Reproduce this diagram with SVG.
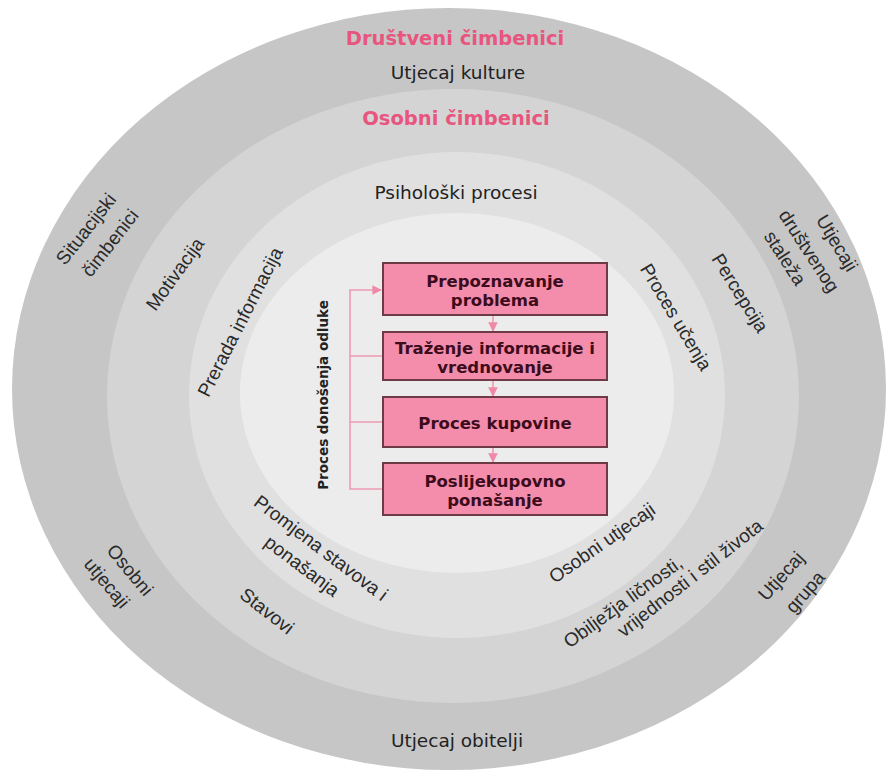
<svg xmlns="http://www.w3.org/2000/svg" width="888" height="773" viewBox="0 0 888 773">
<defs>
<style>
.hd{font-family:"DejaVu Sans",Verdana,sans-serif;font-weight:bold;font-size:19.5px;fill:#e8557f;text-anchor:middle;dominant-baseline:central}
.lb{font-family:"DejaVu Sans",Verdana,sans-serif;font-size:18.5px;fill:#222;text-anchor:middle;dominant-baseline:central}
.rl{font-family:"Liberation Sans",Arial,sans-serif;font-size:19px;fill:#2a2a2a;text-anchor:middle;dominant-baseline:central}
.bx{fill:#f38dab;stroke:#6e3a46;stroke-width:2}
.bt{font-family:"DejaVu Sans",Verdana,sans-serif;font-weight:bold;font-size:16.5px;fill:#3d0c1c;text-anchor:middle;dominant-baseline:central}
.vt{font-family:"DejaVu Sans",Verdana,sans-serif;font-weight:bold;font-size:13.5px;fill:#222;text-anchor:middle;dominant-baseline:central}
.cn{fill:none;stroke:#ee9ab4;stroke-width:1.6}
</style>
<marker id="ah" viewBox="0 0 10 10" refX="9" refY="5" markerWidth="6" markerHeight="6" orient="auto">
<path d="M0,0 L10,5 L0,10 z" fill="#ee8aa8"/>
</marker>
</defs>
<rect width="888" height="773" fill="#ffffff"/>
<g id="rings">
<ellipse cx="449" cy="389" rx="437" ry="381" fill="#c6c6c6"/>
<ellipse cx="453" cy="396" rx="346" ry="307" fill="#d4d4d4"/>
<ellipse cx="457" cy="395" rx="268" ry="243" fill="#e0e0e0"/>
<ellipse cx="457" cy="393" rx="217" ry="180" fill="#ececec"/>
</g>
<g id="labels">
<text class="hd" x="455" y="38">Društveni čimbenici</text>
<text class="lb" x="458" y="72">Utjecaj kulture</text>
<text class="hd" x="456" y="118">Osobni čimbenici</text>
<text class="lb" x="456" y="192">Psihološki procesi</text>
<text class="lb" x="457" y="740">Utjecaj obitelji</text>
<text class="rl" transform="translate(86,229) rotate(-52)">Situacijski</text>
<text class="rl" transform="translate(110,243) rotate(-52)">čimbenici</text>
<text class="rl" transform="translate(175,274) rotate(-54)">Motivacija</text>
<text class="rl" transform="translate(240,322) rotate(-63)">Prerada informacija</text>
<text class="rl" transform="translate(837,243) rotate(59)">Utjecaji</text>
<text class="rl" transform="translate(809,251) rotate(57)">društvenog</text>
<text class="rl" transform="translate(785,258) rotate(57)">staleža</text>
<text class="rl" transform="translate(740,293) rotate(58)">Percepcija</text>
<text class="rl" transform="translate(676,317) rotate(59)">Proces učenja</text>
<text class="rl" transform="translate(130,570) rotate(50)">Osobni</text>
<text class="rl" transform="translate(107,583) rotate(50)">utjecaji</text>
<text class="rl" transform="translate(321,548) rotate(37)">Promjena stavova i</text>
<text class="rl" transform="translate(302,566) rotate(37)">ponašanja</text>
<text class="rl" transform="translate(267,611) rotate(38)">Stavovi</text>
<text class="rl" transform="translate(602,543) rotate(-35)">Osobni utjecaji</text>
<text class="rl" transform="translate(623,602) rotate(-36)">Obilježja ličnosti,</text>
<text class="rl" transform="translate(690,578) rotate(-38)">vrijednosti i stil života</text>
<text class="rl" transform="translate(781,576) rotate(-48)">Utjecaj</text>
<text class="rl" transform="translate(805,592) rotate(-49)">grupa</text>
<text class="vt" transform="translate(323,395) rotate(-90)">Proces donošenja odluke</text>
</g>
<g id="connectors">
<path class="cn" d="M383,489 H350 V290 H381" marker-end="url(#ah)"/>
<path class="cn" d="M350,356 H383"/>
<path class="cn" d="M350,422 H383"/>
<path class="cn" d="M493,316 V331" marker-end="url(#ah)"/>
<path class="cn" d="M493,381 V396" marker-end="url(#ah)"/>
<path class="cn" d="M493,448 V462" marker-end="url(#ah)"/>
</g>
<g id="box1"><rect class="bx" x="383" y="263" width="224" height="52"/><text class="bt" x="495" y="281">Prepoznavanje</text><text class="bt" x="495" y="300">problema</text></g>
<g id="box2"><rect class="bx" x="383" y="332" width="224" height="48"/><text class="bt" x="495" y="348">Traženje informacije i</text><text class="bt" x="495" y="367">vrednovanje</text></g>
<g id="box3"><rect class="bx" x="383" y="397" width="224" height="50"/><text class="bt" x="495" y="423">Proces kupovine</text></g>
<g id="box4"><rect class="bx" x="383" y="463" width="224" height="52"/><text class="bt" x="495" y="481">Poslijekupovno</text><text class="bt" x="495" y="500">ponašanje</text></g>
</svg>
